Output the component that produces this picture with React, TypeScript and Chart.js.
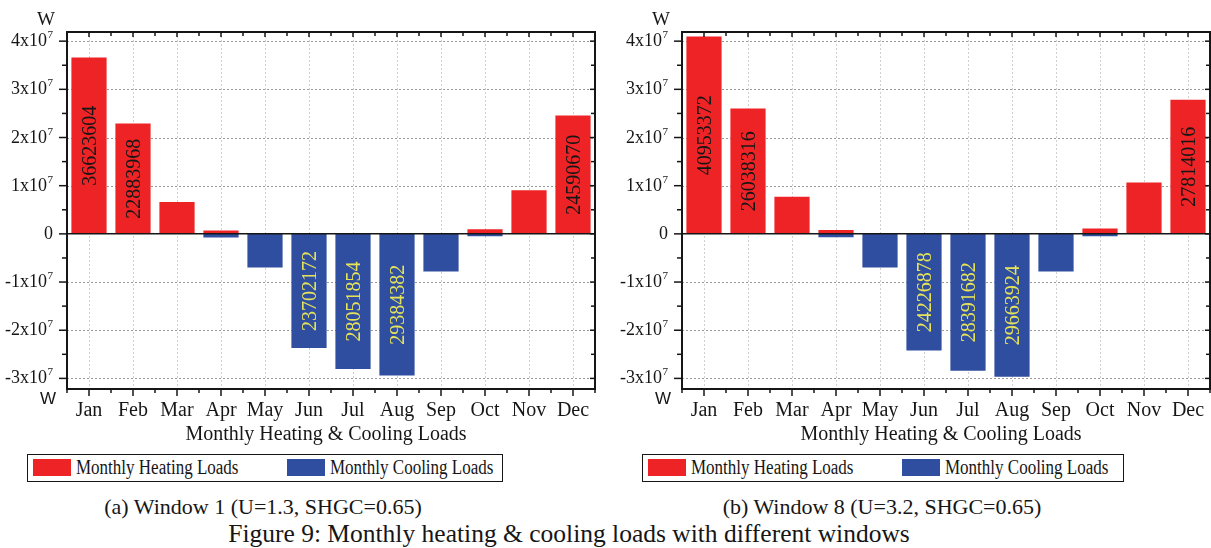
import React, { useEffect, useRef } from 'react';
import { Chart, registerables } from 'chart.js';

Chart.register(...registerables);

// ---------- data ----------
const months = ['Jan', 'Feb', 'Mar', 'Apr', 'May', 'Jun', 'Jul', 'Aug', 'Sep', 'Oct', 'Nov', 'Dec'];

const heatingWindow1 = [36623604, 22883968, 6640000, 700000, 0, 0, 0, 0, 0, 950000, 9070000, 24590670];
const coolingWindow1 = [0, 0, 0, -750000, -7000000, -23702172, -28051854, -29384382, -7800000, -480000, 0, 0];

const heatingWindow8 = [40953372, 26038316, 7680000, 800000, 0, 0, 0, 0, 0, 1120000, 10640000, 27814016];
const coolingWindow8 = [0, 0, 0, -700000, -7000000, -24226878, -28391682, -29663924, -7800000, -480000, 0, 0];

const yTickValues = [-3e7, -2e7, -1e7, 0, 1e7, 2e7, 3e7, 4e7];
const yTickLabels = ['-3x10^7', '-2x10^7', '-1x10^7', '0', '1x10^7', '2x10^7', '3x10^7', '4x10^7'];
const yMin = -3.22e7;
const yMax = 4.19e7;
const yMinorStep = 5e6;

const xTitle = 'Monthly Heating & Cooling Loads';
const unitLabel = 'W';
const seriesNames = ['Monthly Heating Loads', 'Monthly Cooling Loads'];
const captions = ['(a) Window 1 (U=1.3, SHGC=0.65)', '(b) Window 8 (U=3.2, SHGC=0.65)'];
const figureCaption = 'Figure 9: Monthly heating & cooling loads with different windows';
const labelThreshold = 1.5e7;

// ---------- styles ----------
const RED = '#EE2326';
const BLUE = '#2F4EA0';
const YELLOW = '#E6E35A';
const INK = '#161616';
const SERIF = '"Liberation Serif", "Times New Roman", Times, serif';
const SANS = '"Liberation Sans", Arial, sans-serif';

type ChartProps = {
  heating: number[];
  cooling: number[];
  width: number;
  height: number;
  areaLeft: number;
  areaRight: number;
  areaTop: number;
  areaBottom: number;
};

function LoadChart({ heating, cooling, width, height, areaLeft, areaRight, areaTop, areaBottom }: ChartProps) {
  const ref = useRef<HTMLCanvasElement>(null);

  useEffect(() => {
    const canvas = ref.current;
    if (!canvas) return;

    const line = (ctx: CanvasRenderingContext2D, x1: number, y1: number, x2: number, y2: number) => {
      ctx.beginPath();
      ctx.moveTo(x1, y1);
      ctx.lineTo(x2, y2);
      ctx.stroke();
    };

    const gridLayer = {
      id: 'gridLayer',
      beforeDatasetsDraw(chart: any) {
        const { ctx, chartArea: a } = chart;
        const x = chart.scales.x;
        const y = chart.scales.y;
        ctx.save();
        ctx.lineWidth = 1;
        // vertical grid at category centres
        ctx.strokeStyle = '#cfcfcf';
        ctx.setLineDash([2, 2]);
        months.forEach((_, i) => {
          const px = Math.round(x.getPixelForValue(i)) + 0.5;
          line(ctx, px, a.top, px, a.bottom);
        });
        // horizontal grid at major ticks
        ctx.strokeStyle = '#9a9a9a';
        ctx.setLineDash([2, 2]);
        yTickValues.forEach((v) => {
          if (v === 0) return;
          const py = Math.round(y.getPixelForValue(v)) + 0.5;
          line(ctx, a.left, py, a.right, py);
        });
        ctx.restore();
      },
    };

    const overlay = {
      id: 'overlay',
      afterDatasetsDraw(chart: any) {
        const { ctx, chartArea: a } = chart;
        const x = chart.scales.x;
        const y = chart.scales.y;
        ctx.save();

        // value labels inside large bars
        ctx.font = `20px ${SERIF}`;
        ctx.textAlign = 'center';
        ctx.textBaseline = 'alphabetic';
        [0, 1].forEach((di) => {
          const meta = chart.getDatasetMeta(di);
          const vals = chart.data.datasets[di].data as number[];
          meta.data.forEach((el: any, i: number) => {
            const v = vals[i];
            if (Math.abs(v) < labelThreshold) return;
            const cy = (el.y + el.base) / 2;
            ctx.save();
            ctx.translate(el.x, cy);
            ctx.rotate(-Math.PI / 2);
            ctx.fillStyle = di === 0 ? INK : YELLOW;
            ctx.fillText(String(Math.abs(v)), 0, 7);
            ctx.restore();
          });
        });

        ctx.strokeStyle = INK;
        ctx.fillStyle = INK;

        // zero line
        const y0 = y.getPixelForValue(0);
        ctx.lineWidth = 1.5;
        line(ctx, a.left, y0, a.right, y0);

        // frame
        ctx.lineWidth = 2;
        ctx.strokeRect(a.left, a.top, a.right - a.left, a.bottom - a.top);

        // y ticks + labels
        ctx.lineWidth = 1.5;
        yTickValues.forEach((v, k) => {
          const py = y.getPixelForValue(v);
          line(ctx, a.left - 8, py, a.left, py);
          line(ctx, a.right - 5, py, a.right, py);
          const mv = v + yMinorStep;
          if (mv < yMax) {
            const pm = y.getPixelForValue(mv);
            line(ctx, a.left - 5, pm, a.left, pm);
            line(ctx, a.right - 4, pm, a.right, pm);
          }
          const [base, exp] = yTickLabels[k].split('^');
          ctx.textBaseline = 'alphabetic';
          ctx.font = `18px ${SERIF}`;
          if (exp) {
            ctx.textAlign = 'right';
            ctx.fillText(base, a.left - 20, py + 5);
            ctx.font = `11px ${SERIF}`;
            ctx.textAlign = 'left';
            ctx.fillText(exp, a.left - 19.5, py - 3);
          } else {
            ctx.textAlign = 'right';
            ctx.fillText(base, a.left - 14, py + 5);
          }
        });
        const firstMinor = yTickValues[0] - yMinorStep;
        if (firstMinor > yMin) {
          const pm = y.getPixelForValue(firstMinor);
          line(ctx, a.left - 5, pm, a.left, pm);
        }

        // x ticks + labels
        ctx.font = `20px ${SERIF}`;
        ctx.textAlign = 'center';
        months.forEach((m, i) => {
          const px = x.getPixelForValue(i);
          line(ctx, px, a.bottom, px, a.bottom + 7);
          line(ctx, px, a.top, px, a.top + 5);
          ctx.fillText(m, px, 416);
        });
        for (let i = 0; i <= months.length; i++) {
          const pb = x.getPixelForValue(i - 0.5);
          line(ctx, pb, a.bottom, pb, a.bottom + 4);
          line(ctx, pb, a.top, pb, a.top + 4);
        }

        // axis title
        ctx.fillText(xTitle, (a.left + a.right) / 2 - 5, 440);

        // unit labels
        ctx.textAlign = 'left';
        ctx.font = `19px ${SERIF}`;
        ctx.fillText(unitLabel, a.left - 30, 25);
        ctx.font = `17px ${SANS}`;
        ctx.fillText(unitLabel, a.left - 27, 404);

        ctx.restore();
      },
    };

    const chart = new Chart(canvas, {
      type: 'bar',
      data: {
        labels: months,
        datasets: [
          {
            label: seriesNames[0],
            data: heating,
            backgroundColor: RED,
            borderWidth: 0,
            grouped: false,
            barPercentage: 0.8,
            categoryPercentage: 1,
          } as any,
          {
            label: seriesNames[1],
            data: cooling,
            backgroundColor: BLUE,
            borderWidth: 0,
            grouped: false,
            barPercentage: 0.8,
            categoryPercentage: 1,
          } as any,
        ],
      },
      options: {
        responsive: false,
        animation: false,
        devicePixelRatio: 1,
        events: [],
        layout: { padding: { left: 0, top: areaTop, right: width - areaRight, bottom: 0 } },
        plugins: { legend: { display: false }, tooltip: { enabled: false } },
        scales: {
          x: {
            afterFit: (s: any) => {
              s.height = height - areaBottom;
            },
            ticks: { display: false },
            grid: { display: false },
            border: { display: false },
          } as any,
          y: {
            min: yMin,
            max: yMax,
            afterFit: (s: any) => {
              s.width = areaLeft;
            },
            ticks: { display: false, stepSize: 1e7, includeBounds: false },
            grid: { display: false },
            border: { display: false },
          } as any,
        },
      },
      plugins: [gridLayer, overlay],
    });

    return () => chart.destroy();
  }, [heating, cooling, width, height, areaLeft, areaRight, areaTop, areaBottom]);

  return <canvas ref={ref} width={width} height={height} style={{ display: 'block', width, height }} />;
}

function Legend({ left, width }: { left: number; width: number }) {
  const text: React.CSSProperties = {
    position: 'absolute',
    top: 0,
    height: 25,
    display: 'flex',
    alignItems: 'center',
    fontFamily: SERIF,
    fontSize: 20,
    color: INK,
    whiteSpace: 'nowrap',
    transform: 'scaleX(0.85)',
    transformOrigin: 'left center',
  };
  return (
    <div
      style={{
        position: 'absolute',
        left,
        top: 454,
        width,
        height: 28,
        border: `1.5px solid ${INK}`,
        boxSizing: 'border-box',
      }}
    >
      <div style={{ position: 'absolute', left: 5, top: 4, width: 38, height: 17, background: RED }} />
      <div style={{ ...text, left: 48 }}>{seriesNames[0]}</div>
      <div style={{ position: 'absolute', left: 259, top: 4, width: 38, height: 17, background: BLUE }} />
      <div style={{ ...text, left: 302 }}>{seriesNames[1]}</div>
    </div>
  );
}

const captionStyle: React.CSSProperties = {
  position: 'absolute',
  top: 496,
  width: 400,
  textAlign: 'center',
  fontFamily: SERIF,
  fontSize: 22,
  lineHeight: '22px',
  color: INK,
  whiteSpace: 'nowrap',
};

export default function App() {
  return (
    <div
      style={{
        position: 'absolute',
        left: 0,
        top: 0,
        width: 1211,
        height: 548,
        background: '#fff',
        overflow: 'hidden',
      }}
    >
      <div style={{ position: 'absolute', left: 0, top: 0 }}>
        <LoadChart
          heating={heatingWindow1}
          cooling={coolingWindow1}
          width={605}
          height={450}
          areaLeft={67}
          areaRight={595}
          areaTop={32}
          areaBottom={389}
        />
      </div>
      <div style={{ position: 'absolute', left: 610, top: 0 }}>
        <LoadChart
          heating={heatingWindow8}
          cooling={coolingWindow8}
          width={601}
          height={450}
          areaLeft={72}
          areaRight={600}
          areaTop={32}
          areaBottom={389}
        />
      </div>
      <Legend left={27} width={476} />
      <Legend left={642} width={482} />
      <div style={{ ...captionStyle, left: 63 }}>{captions[0]}</div>
      <div style={{ ...captionStyle, left: 682 }}>{captions[1]}</div>
      <div
        style={{
          position: 'absolute',
          left: 169,
          top: 521,
          width: 800,
          textAlign: 'center',
          fontFamily: SERIF,
          fontSize: 25.5,
          lineHeight: '25px',
          color: INK,
          whiteSpace: 'nowrap',
        }}
      >
        {figureCaption}
      </div>
    </div>
  );
}
